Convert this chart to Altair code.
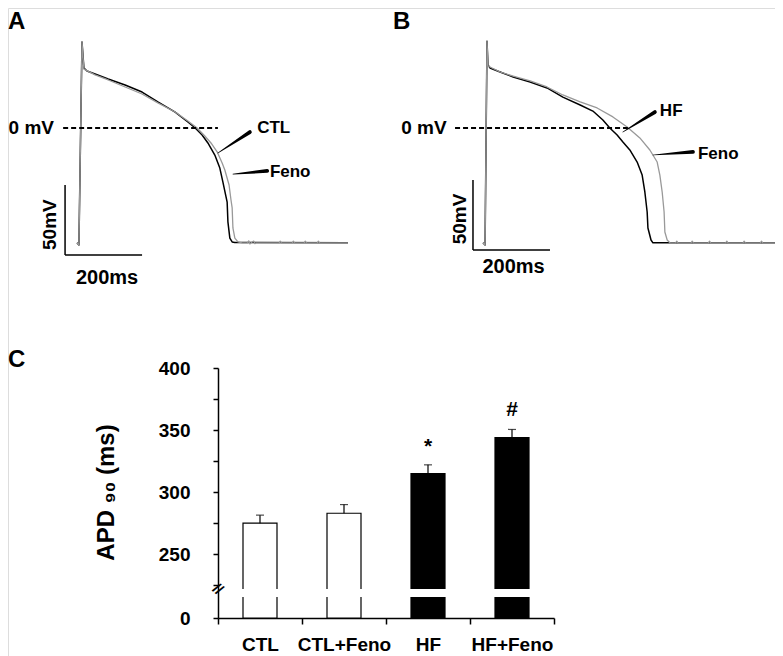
import altair as alt
import pandas as pd

FONT = "Liberation Sans"

# ---------------- Panel A: CTL vs CTL+Feno (ms after upstroke, mV) ----------------
a_ctl_t = [-13, -8, 0, 5, 13, 34, 68, 112, 156, 197, 242, 275, 294, 312, 327, 345,
           358, 366, 377, 379, 384, 390, 397, 691]
a_ctl_v = [-82, -83.6, 61.4, 42.9, 40.7, 38.6, 35.0, 30.7, 25.7, 18.6, 11.4, 4.3, 0.0, -5.0,
           -10.7, -19.3, -28.6, -38.6, -52.9, -67.0, -78.6, -81.4, -81.8, -82]
a_feno_t = [-13, -8, 0, 5, 34, 68, 112, 156, 197, 242, 275, 299, 319, 335, 351, 364, 371,
            382, 387, 390, 392, 397, 405, 416, 430, 433, 436, 439, 446, 449, 452, 512, 515,
            518, 546, 549, 552, 577, 580, 583, 611, 614, 617, 691]
a_feno_v = [-82, -83.6, 61.4, 42.0, 37.9, 34.3, 29.3, 24.3, 17.9, 11.4, 5.0, 0.0, -5.7, -10.7,
            -17.0, -25.0, -30.0, -40.7, -51.4, -57.0, -71.4, -78.6, -81.4, -82, -82, -80.6,
            -82.8, -82, -80.8, -82.6, -82, -82, -80.9, -82, -82, -80.9, -82, -82, -80.9, -82,
            -82, -80.9, -82, -82]

# ---------------- Panel B: HF vs HF+Feno ----------------
b_hf_t = [-10.4, -5, 0, 2.6, 7.8, 34, 68, 112, 156, 197, 242, 275, 301, 319, 338, 353, 371,
          390, 403, 410, 416, 418, 426, 431, 756]
b_hf_v = [-82, -83.6, 62, 45, 42.9, 40, 36.4, 32.9, 28.6, 22.1, 16.4, 12.1, 5.7, 0, -5, -10,
          -15.7, -24.3, -33.6, -45.7, -60, -71.4, -80, -82, -82]
b_feno_t = [-10.4, -5, 0, 2.6, 34, 68, 112, 156, 197, 242, 286, 327, 364, 397, 423, 442, 449,
            455, 460, 462, 468, 475, 490, 493, 496, 530, 533, 536, 575, 578, 581, 620, 623,
            626, 665, 668, 671, 710, 713, 716, 756]
b_feno_v = [-82, -83.6, 62, 44.3, 40, 37.1, 33.6, 29.3, 23.6, 18.6, 14.3, 7.9, 0.7, -7.1,
            -15.7, -24.3, -33.6, -45.7, -60, -74.3, -80, -82, -82, -80.9, -82, -82, -80.9,
            -82, -82, -80.9, -82, -82, -80.9, -82, -82, -80.9, -82, -82, -80.9, -82, -82]

# annotations of the trace panels (ms, mV)
zero_a = [-49, 353]
zero_b = [-83, 366]
bar_a = [-44, 156, -40.7, -90.7]       # t0, t1, v_top, v_bottom of scale bar
bar_b = [-36.4, 163.6, -37.1, -87.1]
arrows_a = {"t0": [436, 481], "v0": [-2.9, -30.7], "t1": [353, 392], "v1": [-17.9, -32.9]}
arrows_b = {"t0": [436, 535], "v0": [11.4, -17.1], "t1": [353, 431], "v1": [-2.9, -19.3]}
names_a = {"t": [455, 488], "v": [0, -31.4], "label": ["CTL", "Feno"]}
names_b = {"t": [449, 548], "v": [12.1, -18.4], "label": ["HF", "Feno"]}

# ---------------- Panel C: APD90 ----------------
groups = ["CTL", "CTL+Feno", "HF", "HF+Feno"]
apd90 = [275, 283, 315, 344]
apd90_sem = [6.5, 7.0, 7.0, 6.5]
bar_fill = ["white", "white", "black", "black"]
sig_text = ["", "", "*", "#"]
sig_y = [0, 0, 336, 366]
y_ticks = [0, 225, 250, 275, 300, 325, 350, 375, 400]
BREAK_LO, BREAK_HI = 200, 222

# ---------------- layout (pixels inside the plot area) ----------------
W, H = 767, 648
MS, MV = 0.385, 1.4
ZERO = 120
A0, B0 = 74, 479

xa = alt.Scale(domain=[0, 700], range=[A0, A0 + 700 * MS], nice=False, zero=False)
xb = alt.Scale(domain=[0, 700], range=[B0, B0 + 700 * MS], nice=False, zero=False)
vs = alt.Scale(domain=[-100, 70], range=[ZERO + 100 * MV, ZERO - 70 * MV], nice=False, zero=False)


def XY(xs, xf="t", yf="v"):
    return dict(x=alt.X(f"{xf}:Q", scale=xs, axis=None), y=alt.Y(f"{yf}:Q", scale=vs, axis=None))


def trace(t, v, xs, color, width):
    df = pd.DataFrame({"t": t, "v": v, "i": list(range(len(t)))})
    return alt.Chart(df).mark_line(color=color, strokeWidth=width, strokeJoin="round").encode(
        order="i:Q", **XY(xs))


def segs(t0, t1, v0, v1, xs, **mk):
    df = pd.DataFrame({"t": t0, "t2": t1, "v": v0, "v2": v1})
    return alt.Chart(df).mark_rule(color="black", **mk).encode(x2="t2:Q", y2="v2:Q", **XY(xs))


def texts(t, v, labels, xs, **mk):
    df = pd.DataFrame({"t": t, "v": v, "label": labels})
    return alt.Chart(df).mark_text(font=FONT, fontWeight="bold", color="black", **mk).encode(
        text="label:N", **XY(xs))


def arrows(d, xs):
    rows = []
    for k in range(len(d["t0"])):
        rows.append({"id": k, "o": 0, "t": d["t0"][k], "v": d["v0"][k], "w": 1.0})
        rows.append({"id": k, "o": 1, "t": d["t1"][k], "v": d["v1"][k], "w": 0.0})
    return alt.Chart(pd.DataFrame(rows)).mark_trail(color="black").encode(
        detail="id:N", order="o:Q",
        size=alt.Size("w:Q", scale=alt.Scale(domain=[0, 1], range=[0.7, 3.8]), legend=None),
        **XY(xs))


layers = []
for xs, zl, sb, tr in [
    (xa, zero_a, bar_a, [(a_ctl_t, a_ctl_v, "black", 1.5), (a_feno_t, a_feno_v, "#999999", 1.3)]),
    (xb, zero_b, bar_b, [(b_hf_t, b_hf_v, "black", 1.5), (b_feno_t, b_feno_v, "#999999", 1.3)]),
]:
    for t, v, c, w in tr:
        layers.append(trace(t, v, xs, c, w))
    layers.append(segs([zl[0]], [zl[1]], [0], [0], xs, strokeWidth=2, strokeDash=[5, 3]))
    layers.append(segs([sb[0], sb[0]], [sb[0], sb[1]], [sb[2], sb[3]], [sb[3], sb[3]], xs,
                       strokeWidth=1.5))

layers.append(arrows(arrows_a, xa))
layers.append(arrows(arrows_b, xb))
layers.append(texts(names_a["t"], names_a["v"], names_a["label"], xa, fontSize=17, align="left",
                    baseline="middle"))
layers.append(texts(names_b["t"], names_b["v"], names_b["label"], xb, fontSize=17, align="left",
                    baseline="middle"))
layers.append(texts([-72.7], [0], ["0 mV"], xa, fontSize=19, align="right", baseline="middle"))
layers.append(texts([-104.7], [0], ["0 mV"], xb, fontSize=19, align="right", baseline="middle"))
layers.append(texts([65], [-107], ["200ms"], xa, fontSize=20, align="center", baseline="middle"))
layers.append(texts([69], [-99], ["200ms"], xb, fontSize=20, align="center", baseline="middle"))
layers.append(texts([-83], [-69], ["50mV"], xa, fontSize=19, align="center", baseline="middle",
                    angle=270))
layers.append(texts([-70], [-65], ["50mV"], xb, fontSize=19, align="center", baseline="middle",
                    angle=270))
layers.append(texts([-192, -192], [84.3, -157.3], ["A", "C"], xa, fontSize=24, align="left",
                    baseline="top"))
layers.append(texts([-244], [84.3], ["B"], xb, fontSize=24, align="left", baseline="top"))

# ---------------- Panel C layers ----------------
dfC = pd.DataFrame({"group": groups, "apd": apd90,
                    "top": [a + s for a, s in zip(apd90, apd90_sem)],
                    "fill": bar_fill, "sig": sig_text, "sig_y": sig_y,
                    "lo": [BREAK_LO] * 4, "hi": [BREAK_HI] * 4})
xc = alt.Scale(domain=groups, range=[210, 546], paddingInner=0, paddingOuter=0)
yc = alt.Scale(domain=[0, BREAK_LO, BREAK_HI, 400], range=[610, 589, 581, 360], nice=False,
               zero=False)

x_axis = alt.Axis(title=None, orient="bottom", offset=-(H - 610), labelAngle=0, labelFont=FONT,
                  labelFontWeight="bold", labelFontSize=19, labelColor="black", labelPadding=11,
                  tickSize=6, tickWidth=1.5, tickColor="black", domainColor="black",
                  domainWidth=1.5, tickBand="extent", labelOverlap=False, grid=False)
y_axis = alt.Axis(values=y_ticks, labelExpr="datum.value % 50 == 0 ? datum.label : ''",
                  orient="left", offset=-210, title="APD \u2089\u2080 (ms)", titleFont=FONT,
                  titleFontSize=24, titleFontWeight="bold", titleColor="black", titlePadding=40,
                  titleY=484, labelFont=FONT, labelFontWeight="bold", labelFontSize=19,
                  labelColor="black", labelPadding=23, tickSize=5, tickWidth=1.5,
                  tickColor="black", domainColor="black", domainWidth=1.5, grid=False,
                  labelOverlap=False)

XC = alt.X("group:N", scale=xc, axis=None)

bars = alt.Chart(dfC).mark_bar(size=34, stroke="black", strokeWidth=1.2).encode(
    x=alt.X("group:N", scale=xc, axis=x_axis),
    y=alt.Y("apd:Q", scale=yc, axis=y_axis),
    y2=alt.Y2(datum=0),
    fill=alt.Fill("fill:N", scale=None))
gap = alt.Chart(dfC).mark_bar(size=40, color="white").encode(
    x=XC, y=alt.Y("lo:Q", scale=yc, axis=None), y2="hi:Q")
err = alt.Chart(dfC).mark_rule(color="black", strokeWidth=1.2).encode(
    x=XC, y=alt.Y("apd:Q", scale=yc, axis=None), y2="top:Q")
cap = alt.Chart(dfC).mark_tick(color="black", size=8, thickness=1.2).encode(
    x=XC, y=alt.Y("top:Q", scale=yc, axis=None))
sig = alt.Chart(dfC).transform_filter("datum.sig != ''").mark_text(
    font=FONT, fontWeight="bold", fontSize=21, color="black", baseline="middle").encode(
    x=XC, y=alt.Y("sig_y:Q", scale=yc, axis=None), text="sig:N")
# axis-break mark: dx/dy are in the rotated frame, so this is 42 px left and 4 px up
brk = alt.Chart(pd.DataFrame({"group": ["CTL"], "y": [(BREAK_LO + BREAK_HI) / 2],
                              "s": ["//"]})).mark_text(
    font=FONT, fontWeight="bold", fontSize=15, color="black", angle=40, dx=-34.7, dy=23.9,
    baseline="middle", align="center").encode(
    x=XC, y=alt.Y("y:Q", scale=yc, axis=None), text="s:N")

layers += [bars, gap, err, cap, sig, brk]

chart = alt.layer(*layers).resolve_scale(x="independent", y="independent").properties(
    width=W, height=H, padding=0, background="white",
    autosize=alt.AutoSizeParams(type="none")).configure_view(stroke=None).configure(font=FONT)

chart.save("out.html", embed_options={"renderer": "svg", "actions": False})
